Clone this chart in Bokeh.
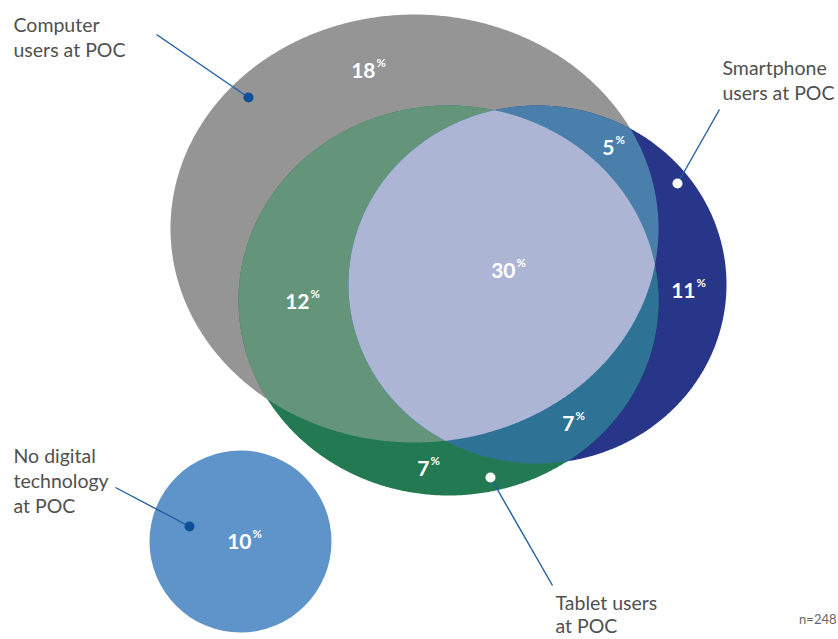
import numpy as np
from bokeh.plotting import figure
from bokeh.models import Range1d, ColumnDataSource
from bokeh.core.properties import value
from bokeh.embed import file_html
from bokeh.resources import INLINE

# ---- data ----
region_names = ["Computer only", "Computer & Smartphone", "Smartphone only", "All three",
                "Computer & Tablet", "Tablet & Smartphone", "Tablet only", "No digital technology"]
region_shares = [18, 5, 11, 30, 12, 7, 7, 10]
region_label_x = [375, 614, 695, 515, 309, 574, 429, 251]   # right edge of number
region_label_y = [78, 155, 298, 278, 309, 431, 476, 549]    # baseline

group_names = ["Computer users at POC", "Smartphone users at POC", "Tablet users at POC", "No digital technology at POC"]
group_lines = [["Computer", "users at POC"], ["Smartphone", "users at POC"],
               ["Tablet users", "at POC"], ["No digital", "technology", "at POC"]]
sample_note = "n=248"

# ---- geometry (layout) ----
C = dict(cx=414, cy=228, a=244, b=214)   # computer
T = dict(cx=448, cy=300, a=210, b=195)   # tablet
S = dict(cx=537, cy=284, a=189, b=179)   # smartphone
N = dict(cx=240, cy=541, r=91)           # no digital

col = {
    "C": "#959595", "T": "#237a52", "S": "#28368a",
    "CT": "#64957b", "CS": "#4a7fab", "TS": "#2e7396", "CTS": "#adb5d5", "N": "#5f94ca",
}

BASE_SHIFT = -8  # correction for rendered alphabetic baseline


def ell(e, n=720):
    t = np.linspace(0, 2 * np.pi, n, endpoint=False)
    return np.c_[e["cx"] + e["a"] * np.cos(t), e["cy"] + e["b"] * np.sin(t)]


def clip(subject, clipper):
    area = 0.5 * np.sum(clipper[:, 0] * np.roll(clipper[:, 1], -1) - np.roll(clipper[:, 0], -1) * clipper[:, 1])
    sgn = 1 if area > 0 else -1
    out = [tuple(p) for p in subject]
    m = len(clipper)
    for i in range(m):
        a = clipper[i]
        b = clipper[(i + 1) % m]
        inp = out
        out = []
        if not inp:
            break

        def inside(p):
            return sgn * ((b[0] - a[0]) * (p[1] - a[1]) - (b[1] - a[1]) * (p[0] - a[0])) >= 0

        def inter(p, q):
            x1, y1 = p; x2, y2 = q
            x3, y3 = a; x4, y4 = b
            den = (x1 - x2) * (y3 - y4) - (y1 - y2) * (x3 - x4)
            t = ((x1 - x3) * (y3 - y4) - (y1 - y3) * (x3 - x4)) / den
            return (x1 + t * (x2 - x1), y1 + t * (y2 - y1))

        s = inp[-1]
        for e in inp:
            if inside(e):
                if not inside(s):
                    out.append(inter(s, e))
                out.append(e)
            elif inside(s):
                out.append(inter(s, e))
            s = e
    return np.array(out)


pC, pT, pS = ell(C), ell(T), ell(S)
pCT = clip(pC, pT)
pCS = clip(pC, pS)
pTS = clip(pT, pS)
pCTS = clip(pCT, pS)

p = figure(width=838, height=639, x_range=Range1d(0, 838), y_range=Range1d(639, 0),
           output_backend="svg", toolbar_location=None, min_border=0)
p.axis.visible = False
p.grid.visible = False
p.outline_line_color = None
p.background_fill_color = "white"
p.border_fill_color = "white"

for poly, key in [(pC, "C"), (pS, "S"), (pT, "T"), (pCT, "CT"), (pCS, "CS"), (pTS, "TS"), (pCTS, "CTS")]:
    p.patch(poly[:, 0], poly[:, 1], fill_color=col[key], line_color=None)

p.circle(x=[N["cx"]], y=[N["cy"]], radius=N["r"], fill_color=col["N"], line_color=None)

# percentage labels
FONT = "Lato"
src = ColumnDataSource(dict(x=region_label_x, y=[y + BASE_SHIFT for y in region_label_y],
                            num=[str(v) for v in region_shares],
                            px=[x + 1 for x in region_label_x],
                            py=[y + BASE_SHIFT - 8 for y in region_label_y],
                            pct=["%"] * len(region_shares)))
p.text(x="x", y="y", text="num", source=src, text_font=value(FONT), text_font_style="bold",
       text_font_size="21px", text_color="white", text_align="right", text_baseline="alphabetic")
p.text(x="px", y="py", text="pct", source=src, text_font=value(FONT), text_font_style="bold",
       text_font_size="11.5px", text_color="white", text_align="left", text_baseline="alphabetic")

# group labels
label_x = [13, 722, 555, 13]
label_y0 = [32, 75, 610, 463]
line_h = [25, 25, 23, 25]
tx, ty, tt = [], [], []
for lines, x0, y0, lh in zip(group_lines, label_x, label_y0, line_h):
    for k, ln in enumerate(lines):
        tx.append(x0); ty.append(y0 + k * lh + BASE_SHIFT); tt.append(ln)
p.text(x=tx, y=ty, text=tt, text_font=value(FONT), text_font_size="19.5px", text_color="#505050",
       text_align="left", text_baseline="alphabetic")

# leader lines
lead_x0 = [156, 719, 552, 115]
lead_y0 = [34, 109, 585, 487]
lead_x1 = [248, 677, 490, 189]
lead_y1 = [97, 183, 477, 526]
dot_fill = ["#0d4f9a", "white", "white", "#0d4f9a"]
p.segment(x0=lead_x0, y0=lead_y0, x1=lead_x1, y1=lead_y1, line_color="#1f5fa0", line_width=1.4)
p.scatter(x=lead_x1, y=lead_y1, size=10, fill_color=dot_fill, line_color=None)

p.text(x=[836], y=[626 + BASE_SHIFT], text=[sample_note], text_font=value(FONT), text_font_size="13px",
       text_color="#666666", text_align="right", text_baseline="alphabetic")

open("out.html", "w").write(file_html(p, INLINE))
